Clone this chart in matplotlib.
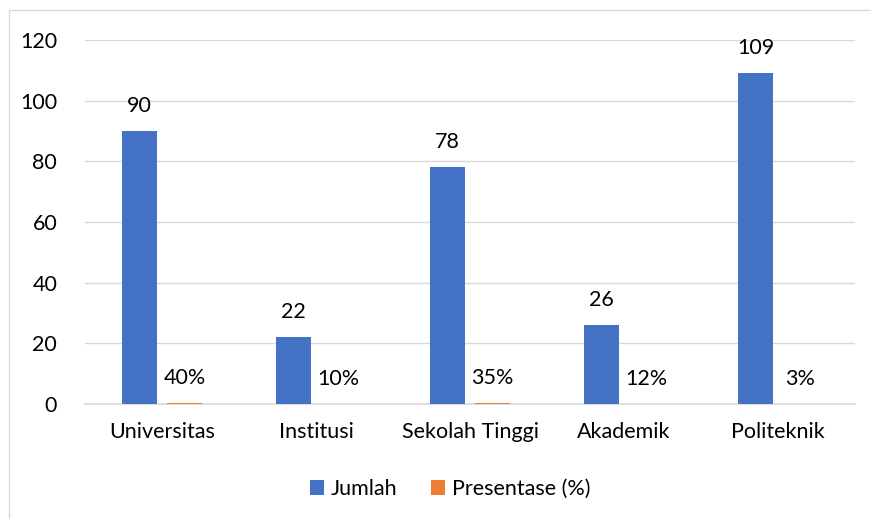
import matplotlib
matplotlib.use("Agg")
import matplotlib.pyplot as plt
from matplotlib.patches import Rectangle
import numpy as np

categories = ["Universitas", "Institusi", "Sekolah Tinggi", "Akademik", "Politeknik"]
jumlah = [90, 22, 78, 26, 109]
presentase = [0.40, 0.10, 0.35, 0.12, 0.03]
presentase_labels = ["40%", "10%", "35%", "12%", "3%"]

BLUE = "#4472C4"
ORANGE = "#ED7D31"
GRID = "#D9D9D9"
FS = 15.5

plt.rcParams["font.family"] = ["Lato", "DejaVu Sans"]

fig = plt.figure(figsize=(8.71, 5.19), dpi=100)
ax = fig.add_axes([85 / 871, 1 - 404 / 519, 770 / 871, 364 / 519])

x = np.arange(len(categories))
w = 0.227
off = 0.146
b1 = ax.bar(x - off, jumlah, w, color=BLUE, label="Jumlah", zorder=3)
b2 = ax.bar(x + off, presentase, w, color=ORANGE, label="Presentase (%)", zorder=3)

for rect, v in zip(b1, jumlah):
    ax.annotate(str(v), (rect.get_x() + rect.get_width() / 2, rect.get_height()),
                xytext=(0, 18), textcoords="offset points", ha="center", va="center",
                fontsize=FS, color="#000000")
for rect, lab in zip(b2, presentase_labels):
    ax.annotate(lab, (rect.get_x() + rect.get_width() / 2, rect.get_height()),
                xytext=(0, 18), textcoords="offset points", ha="center", va="center",
                fontsize=FS, color="#000000")

ax.set_xlim(-0.5, len(categories) - 0.5)
ax.set_ylim(0, 120)
ax.set_yticks(range(0, 121, 20))
ax.set_xticks(x)
ax.set_xticklabels(categories)
ax.tick_params(axis="both", length=0, labelsize=FS, colors="#000000")
ax.tick_params(axis="y", pad=20)
ax.tick_params(axis="x", pad=13)
ax.grid(axis="y", color=GRID, linewidth=1, zorder=0)
for s in ["top", "right", "left"]:
    ax.spines[s].set_visible(False)
ax.spines["bottom"].set_color(GRID)
ax.spines["bottom"].set_linewidth(1.2)

fig.legend(loc="center", bbox_to_anchor=(450 / 871, 1 - 489 / 519), ncol=2,
           frameon=False, fontsize=FS, handlelength=0.65, handleheight=0.65,
           handletextpad=0.3, columnspacing=1.6)

fig.patches.append(Rectangle((9 / 871, -0.1), 1.0, 1 - 10 / 519 + 0.1,
                             transform=fig.transFigure, fill=False,
                             edgecolor="#D9D9D9", linewidth=1))

fig.savefig("out.png", dpi=100)
